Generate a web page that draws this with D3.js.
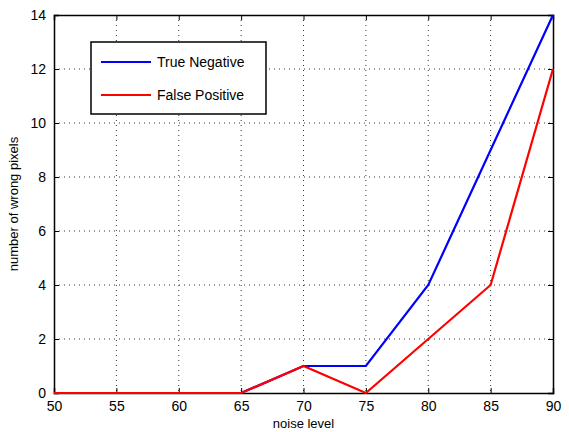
<!DOCTYPE html>
<html>
<head>
<meta charset="utf-8">
<script src="https://cdn.jsdelivr.net/npm/d3@7"></script>
<style>
body { margin: 0; background: #fff; }
text { font-family: "Liberation Sans", Arial, sans-serif; }
</style>
</head>
<body>
<script>
let noiseLevels = [50, 55, 60, 65, 70, 75, 80, 85, 90];
let trueNegative = [0, 0, 0, 0, 1, 1, 4, 9, 14];
let falsePositive = [0, 0, 0, 0, 1, 0, 2, 4, 12];
let yTicks = [0, 2, 4, 6, 8, 10, 12, 14];
let seriesNames = ["True Negative", "False Positive"];
let seriesColors = ["#0000ff", "#ff0000"];

let width = 569;
let height = 432;
let plotLeft = 54, plotRight = 553, plotTop = 15, plotBottom = 393;

let svg = d3.select("body").append("svg").attr("width", width).attr("height", height);

let x = d3.scaleLinear().domain([50, 90]).range([plotLeft, plotRight]);
let y = d3.scaleLinear().domain([0, 14]).range([plotBottom, plotTop]);

// grid
svg.append("g")
  .selectAll("line")
  .data(noiseLevels.slice(1, -1))
  .join("line")
  .attr("x1", d => x(d)).attr("x2", d => x(d))
  .attr("y1", plotTop).attr("y2", plotBottom)
  .attr("stroke", "#000").attr("stroke-width", 0.8)
  .attr("stroke-dasharray", "1,4");

svg.append("g")
  .selectAll("line")
  .data(yTicks.slice(1, -1))
  .join("line")
  .attr("x1", plotLeft).attr("x2", plotRight)
  .attr("y1", d => y(d)).attr("y2", d => y(d))
  .attr("stroke", "#000").attr("stroke-width", 0.8)
  .attr("stroke-dasharray", "1,4");

// axes
let xAxis = svg.append("g")
  .attr("transform", `translate(0,${plotBottom})`)
  .call(d3.axisBottom(x).tickValues(noiseLevels).tickSize(-5).tickPadding(8));
let xTop = svg.append("g")
  .attr("transform", `translate(0,${plotTop})`)
  .call(d3.axisTop(x).tickValues(noiseLevels).tickSize(-5).tickFormat(""));
let yAxis = svg.append("g")
  .attr("transform", `translate(${plotLeft},0)`)
  .call(d3.axisLeft(y).tickValues(yTicks).tickSize(-5).tickPadding(8));
let yRight = svg.append("g")
  .attr("transform", `translate(${plotRight},0)`)
  .call(d3.axisRight(y).tickValues(yTicks).tickSize(-5).tickFormat(""));

[xAxis, xTop, yAxis, yRight].forEach(g => {
  g.select(".domain").attr("stroke", "#000").attr("stroke-width", 1.5);
  g.selectAll(".tick line").attr("stroke", "#000");
  g.selectAll("text").attr("font-size", 14).attr("fill", "#000")
    .style("font-family", "'Liberation Sans', Arial, sans-serif");
});

// lines
let line = d3.line().x((d, i) => x(noiseLevels[i])).y(d => y(d));
[trueNegative, falsePositive].forEach((vals, k) => {
  svg.append("path")
    .datum(vals)
    .attr("d", line)
    .attr("fill", "none")
    .attr("stroke", seriesColors[k])
    .attr("stroke-width", 2.2);
});

// axis labels
svg.append("text")
  .attr("x", (plotLeft + plotRight) / 2).attr("y", 428)
  .attr("text-anchor", "middle").attr("font-size", 13)
  .text("noise level");
svg.append("text")
  .attr("transform", `translate(18,${(plotTop + plotBottom) / 2}) rotate(-90)`)
  .attr("text-anchor", "middle").attr("font-size", 13)
  .text("number of wrong pixels");

// legend
let legend = svg.append("g");
legend.append("rect")
  .attr("x", 91).attr("y", 42).attr("width", 175).attr("height", 72)
  .attr("fill", "#fff").attr("stroke", "#000").attr("stroke-width", 1.5);
seriesNames.forEach((name, k) => {
  let ly = 62 + k * 33;
  legend.append("line")
    .attr("x1", 101).attr("x2", 151).attr("y1", ly).attr("y2", ly)
    .attr("stroke", seriesColors[k]).attr("stroke-width", 2.2);
  legend.append("text")
    .attr("x", 157).attr("y", ly + 5)
    .attr("font-size", 14)
    .text(name);
});
</script>
</body>
</html>
